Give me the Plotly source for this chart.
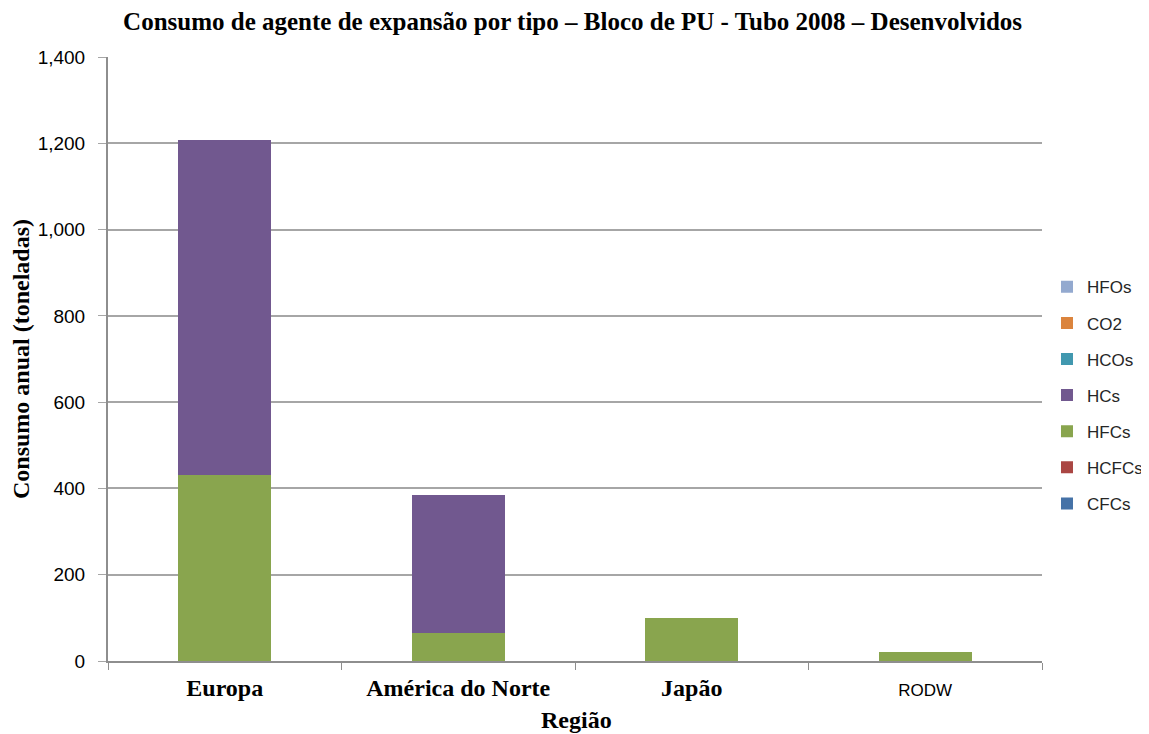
import plotly.graph_objects as go

categories = ["Europa", "América do Norte", "Japão", "RODW"]
series_names = ["CFCs", "HCFCs", "HFCs", "HCs", "HCOs", "CO2", "HFOs"]
cfcs = [0, 0, 0, 0]
hcfcs = [0, 0, 0, 0]
hfcs = [430, 66, 100, 22]
hcs = [778, 318, 0, 0]
hcos = [0, 0, 0, 0]
co2 = [0, 0, 0, 0]
hfos = [0, 0, 0, 0]
colors = ["#4572A7", "#AA4643", "#89A54E", "#71588F", "#4198AF", "#DB843D", "#93A9CF"]
tick_labels = [
    "<b>Europa</b>",
    "<b>América do Norte</b>",
    "<b>Japão</b>",
    '<span style="font-family:Liberation Sans, Arial, sans-serif; font-size:17px; font-weight:normal">RODW</span>',
]

values = [cfcs, hcfcs, hfcs, hcs, hcos, co2, hfos]

fig = go.Figure()
n = len(series_names)
for i, (name, vals, col) in enumerate(zip(series_names, values, colors)):
    fig.add_trace(go.Bar(
        x=categories, y=vals, name=name, marker_color=col,
        marker_line_width=0, legendgroup=name, legendrank=1000 + (n - i),
    ))

serif = "Liberation Serif, Times New Roman, serif"
sans = "Liberation Sans, Arial, sans-serif"

fig.update_layout(
    barmode="stack",
    bargap=0.6,
    width=1141, height=726,
    paper_bgcolor="white", plot_bgcolor="white",
    margin=dict(l=100, r=107, t=49, b=73),
    title=dict(
        text="<b>Consumo de agente de expansão por tipo – Bloco de PU - Tubo 2008 – Desenvolvidos</b>",
        x=0.4948, xanchor="center", y=0.982, yanchor="middle",
        font=dict(family=serif, size=25, color="black"),
    ),
    xaxis=dict(
        automargin=False,
        tickmode="array", tickvals=categories, ticktext=tick_labels,
        tickfont=dict(family=serif, size=24, color="black"),
        showline=True, linecolor="#8E8E8E", linewidth=2,
        ticks="outside", tickson="boundaries", ticklen=7, tickcolor="#8E8E8E",
        ticklabelstandoff=4,
        showgrid=False,
    ),
    yaxis=dict(
        automargin=False,
        range=[0, 1400], dtick=200, tickformat=",d",
        tickfont=dict(family=sans, size=19, color="black"),
        showline=True, linecolor="#8E8E8E", linewidth=2,
        ticks="outside", ticklen=8, tickcolor="#A6A6A6",
        ticklabelstandoff=9,
        showgrid=True, gridcolor="#A6A6A6", gridwidth=1.8,
        zeroline=False,
        title=dict(text="<b>Consumo anual (toneladas)</b>", font=dict(family=serif, size=24, color="black")),
    ),
    legend=dict(
        xref="container", x=0.9106, xanchor="left",
        yref="paper", y=0.44, yanchor="middle",
        traceorder="grouped", tracegroupgap=11,
        font=dict(family=sans, size=17, color="#262626"),
        bgcolor="rgba(0,0,0,0)",
    ),
    annotations=[dict(
        text="<b>Região</b>", xref="paper", yref="paper", x=0.502, y=0,
        xanchor="center", yanchor="middle", yshift=-59, showarrow=False,
        font=dict(family=serif, size=24, color="black"),
    )],
)

fig.write_html("out.html")
